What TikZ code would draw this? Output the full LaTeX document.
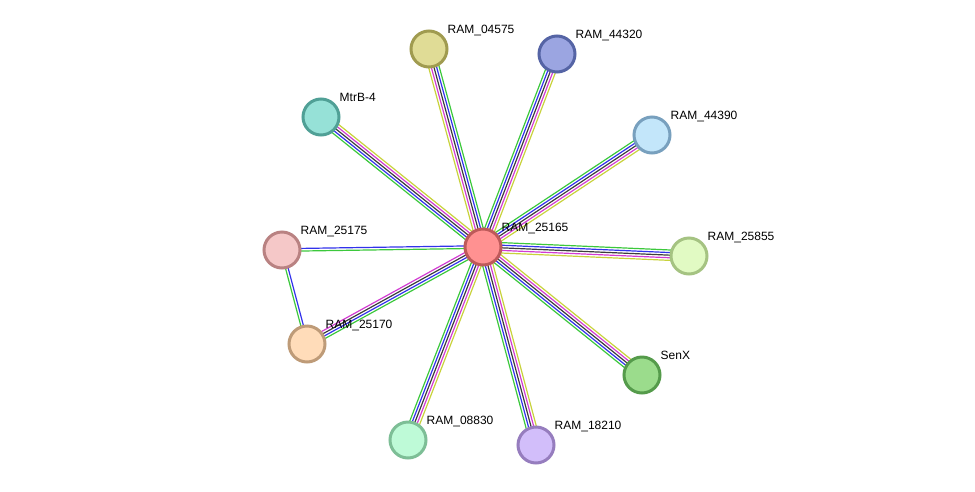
\documentclass[tikz,border=0pt]{standalone}
\usepackage{fontspec}
\setmainfont{Liberation Sans}
\usetikzlibrary{calc,backgrounds}

% evidence channel colours
\definecolor{evgreen}{RGB}{60,200,60}
\definecolor{evblue}{RGB}{50,50,235}
\definecolor{evblack}{RGB}{60,60,60}
\definecolor{evmagenta}{RGB}{210,60,210}
\definecolor{evyellow}{RGB}{200,210,60}

\tikzset{
  protein/.style={circle, line width=3pt, minimum size=36pt, inner sep=0pt},
  lbl/.style={anchor=base west, inner sep=0pt, xshift=-1pt, yshift=16pt,
    font=\fontsize{12}{14}\selectfont},
  evline/.style={line width=1.2pt},
}

% parallel evidence lines between two proteins
\newcommand{\evidence}[3]{%
  \foreach \col/\off in {#3}
    \draw[evline, color=\col] ($(#1.center)!\off pt!90:(#2.center)$) -- ($(#2.center)!\off pt!-90:(#1.center)$);}

\begin{document}
\begin{tikzpicture}[x=1pt, y=-1pt]
  \useasboundingbox (0,0) rectangle (975,491);

  % The proteins
  \node[protein, fill={rgb,255:red,255;green,145;blue,145}, draw={rgb,255:red,190;green,90;blue,90},
    label={[lbl]0:RAM\_25165}] (r25165) at (483,247) {};
  \node[protein, fill={rgb,255:red,224;green,220;blue,150}, draw={rgb,255:red,160;green,155;blue,80},
    label={[lbl]0:RAM\_04575}] (r04575) at (429,49) {};
  \node[protein, fill={rgb,255:red,155;green,165;blue,225}, draw={rgb,255:red,85;green,100;blue,165},
    label={[lbl]0:RAM\_44320}] (r44320) at (557,54) {};
  \node[protein, fill={rgb,255:red,150;green,225;blue,215}, draw={rgb,255:red,80;green,160;blue,150},
    label={[lbl]0:MtrB-4}] (mtrb) at (321,117) {};
  \node[protein, fill={rgb,255:red,195;green,230;blue,250}, draw={rgb,255:red,120;green,160;blue,190},
    label={[lbl]0:RAM\_44390}] (r44390) at (652,135) {};
  \node[protein, fill={rgb,255:red,245;green,200;blue,200}, draw={rgb,255:red,185;green,130;blue,130},
    label={[lbl]0:RAM\_25175}] (r25175) at (282,250) {};
  \node[protein, fill={rgb,255:red,225;green,250;blue,195}, draw={rgb,255:red,165;green,195;blue,130},
    label={[lbl]0:RAM\_25855}] (r25855) at (689,256) {};
  \node[protein, fill={rgb,255:red,255;green,220;blue,185}, draw={rgb,255:red,190;green,155;blue,120},
    label={[lbl]0:RAM\_25170}] (r25170) at (307,344) {};
  \node[protein, fill={rgb,255:red,155;green,220;blue,140}, draw={rgb,255:red,85;green,155;blue,75},
    label={[lbl]0:SenX}] (senx) at (642,375) {};
  \node[protein, fill={rgb,255:red,190;green,250;blue,215}, draw={rgb,255:red,125;green,190;blue,150},
    label={[lbl]0:RAM\_08830}] (r08830) at (408,440) {};
  \node[protein, fill={rgb,255:red,210;green,190;blue,250}, draw={rgb,255:red,150;green,125;blue,190},
    label={[lbl]0:RAM\_18210}] (r18210) at (536,445) {};

  % The interactions
  \begin{scope}[on background layer]
    \evidence{r25165}{r04575}{evgreen/-5.2, evblue/-2.6, evblack/0, evmagenta/2.6, evyellow/5.2}
    \evidence{r25165}{r44320}{evgreen/5.2, evblue/2.6, evblack/0, evmagenta/-2.6, evyellow/-5.2}
    \evidence{r25165}{mtrb}{evgreen/5.2, evblue/2.6, evblack/0, evmagenta/-2.6, evyellow/-5.2}
    \evidence{r25165}{r44390}{evgreen/5.2, evblue/2.6, evblack/0, evmagenta/-2.6, evyellow/-5.2}
    \evidence{r25165}{r25855}{evgreen/5.2, evblue/2.6, evblack/0, evmagenta/-2.6, evyellow/-5.2}
    \evidence{r25165}{senx}{evgreen/-5.2, evblue/-2.6, evblack/0, evmagenta/2.6, evyellow/5.2}
    \evidence{r25165}{r18210}{evgreen/-5.2, evblue/-2.6, evblack/0, evmagenta/2.6, evyellow/5.2}
    \evidence{r25165}{r08830}{evgreen/-5.2, evblue/-2.6, evblack/0, evmagenta/2.6, evyellow/5.2}
    \evidence{r25165}{r25170}{evgreen/3.9, evblue/1.3, evblack/-1.3, evmagenta/-3.9}
    \evidence{r25165}{r25175}{evgreen/1.3, evblue/-1.3}
    \evidence{r25175}{r25170}{evgreen/-1.3, evblue/1.3}
  \end{scope}
\end{tikzpicture}
\end{document}
